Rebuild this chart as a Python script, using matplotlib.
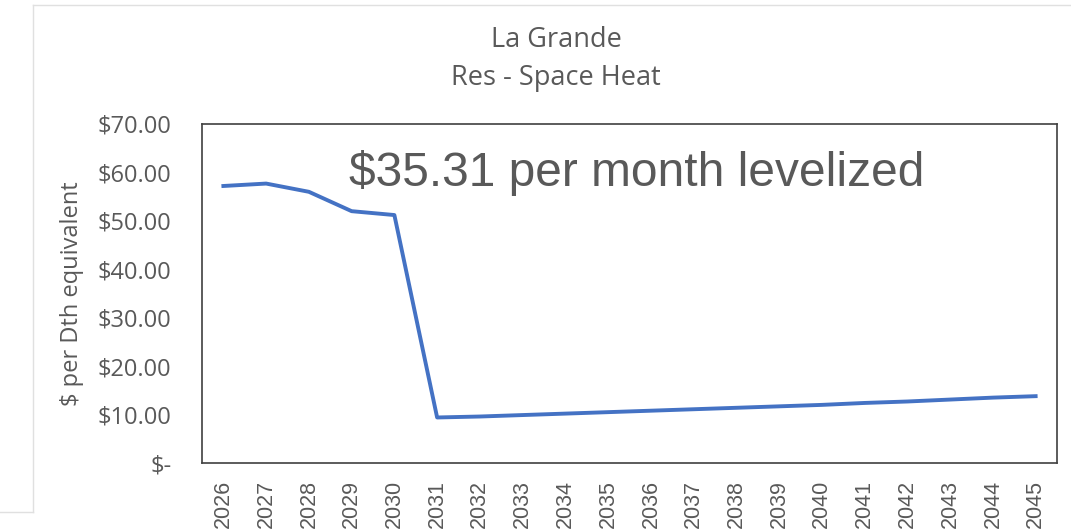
import matplotlib
matplotlib.use("Agg")
import matplotlib.pyplot as plt
from matplotlib.lines import Line2D

years = [str(y) for y in range(2026, 2046)]
values = [57.2, 57.7, 56.0, 52.0, 51.2, 9.4, 9.6, 9.9, 10.2, 10.5,
          10.8, 11.1, 11.4, 11.7, 12.0, 12.4, 12.7, 13.1, 13.5, 13.8]
yticks = [0, 10, 20, 30, 40, 50, 60, 70]
ytick_labels = ["$-", "$10.00", "$20.00", "$30.00", "$40.00", "$50.00", "$60.00", "$70.00"]

TXT = "#595959"
W, H = 1071, 532
fig = plt.figure(figsize=(W / 100, H / 100), dpi=100)
ax = fig.add_axes([202 / W, 1 - 463 / H, (1057 - 202) / W, (463 - 124) / H])

x = list(range(len(years)))
ax.plot(x, values, color="#4472C4", linewidth=2.8, solid_joinstyle="round")
ax.set_xlim(-0.5, len(years) - 0.5)
ax.set_ylim(0, 70)
ax.set_xticks(x)
ax.set_xticklabels(years, rotation=90, fontsize=15.5, color=TXT, family="Liberation Sans")
ax.set_yticks(yticks)
ax.set_yticklabels(ytick_labels, fontsize=17, color=TXT, family="Open Sans")
ax.tick_params(axis="both", length=0)
ax.tick_params(axis="y", pad=22)
ax.tick_params(axis="x", pad=12)
for s in ax.spines.values():
    s.set_color("#404040")
    s.set_linewidth(1.2)

ax.set_ylabel("$ per Dth equivalent", fontsize=17, color=TXT, family="Open Sans", labelpad=10)

fig.text(556 / W, 1 - 40 / H, "La Grande", ha="center", va="center",
         fontsize=19.5, color=TXT, family="Open Sans")
fig.text(556 / W, 1 - 78 / H, "Res - Space Heat", ha="center", va="center",
         fontsize=19.5, color=TXT, family="Open Sans")
fig.text(637 / W, 1 - 173 / H, "$35.31 per month levelized", ha="center", va="center",
         fontsize=34.5, color=TXT, family="Liberation Sans")

# light outer frame lines of the screenshot
fig.add_artist(Line2D([33 / W, 33 / W], [1 - 5 / H, 1 - 512 / H], color="#E0E0E0", lw=1))
fig.add_artist(Line2D([33 / W, 1], [1 - 5 / H, 1 - 5 / H], color="#E0E0E0", lw=1))
fig.add_artist(Line2D([0, 33 / W], [1 - 512 / H, 1 - 512 / H], color="#E0E0E0", lw=1))

fig.savefig("out.png", dpi=100)
